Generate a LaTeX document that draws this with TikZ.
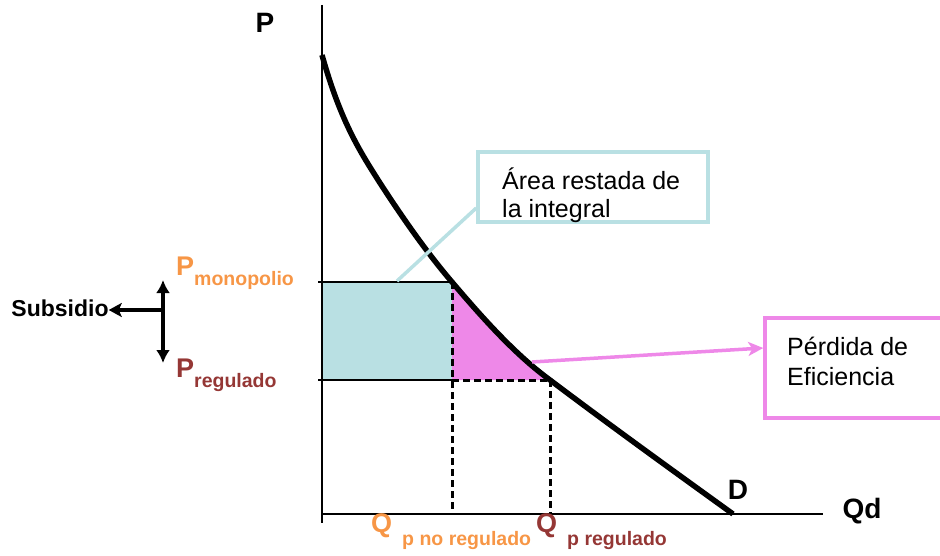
\documentclass[tikz,border=0pt]{standalone}
\usepackage{fontspec}
\setmainfont{Liberation Sans}
\usetikzlibrary{arrows.meta}
\definecolor{naranja}{HTML}{F79646}
\definecolor{granate}{HTML}{953735}
\definecolor{celeste}{HTML}{B9E0E3}
\definecolor{rosa}{HTML}{EE88E8}
\newcommand{\tam}[2]{\fontsize{#1}{#2}\selectfont}
\begin{document}
\begin{tikzpicture}[x=1pt,y=-1pt]
\useasboundingbox (0,0) rectangle (940,556);
\tikzstyle{every node}=[inner sep=0pt]
\tikzstyle{eje}=[line width=2.5pt]
\tikzstyle{guia}=[line width=3pt,dash pattern=on 7pt off 4pt]
\tikzstyle{demanda}=[line width=5.5pt]
\tikzstyle{flecha}=[line width=3.5pt,-{Stealth[length=13pt,width=14pt,inset=3pt]}]
\tikzstyle{punta}=[{Latex[length=13pt,width=14pt]}-{Latex[length=13pt,width=14pt]}]
\tikzstyle{caja}=[draw,line width=3.5pt,minimum width=230pt,minimum height=70pt]
\fill[celeste] (322,282) rectangle (452,380);
\fill[rosa] (452,380) -- (452,282) .. controls (485,321) and (517,356) .. (550,380) -- cycle;
\draw[eje] (322,5) -- (322,523);
\draw[eje] (322,514) -- (823,514);
\draw[eje] (318,282) -- (452,282);
\draw[eje] (318,380) -- (452,380);
\draw[guia] (452,282) -- (452,514);
\draw[guia] (452,380) -- (550,380);
\draw[guia] (550,380) -- (550,514);
\draw[demanda] (322,55) .. controls (341,123) and (361,153) .. (380,183)
  .. controls (404,220) and (428,254) .. (452,282)
  .. controls (485,321) and (517,356) .. (550,380)
  .. controls (611,426) and (672,470) .. (733,514);
\node[font=\bfseries\tam{28}{28}] (ejeP) at (265,23) {P};
\node[font=\bfseries\tam{28}{28}] (ejeQ) at (862,511) {Qd};
\node[font=\bfseries\tam{28}{28}] (D) at (738,490) {D};
\node[font=\bfseries\tam{23}{23}] (subsidio) at (60,308) {Subsidio};
\node[anchor=base west,text=naranja,font=\bfseries] (pmono) at (176,276) {\tam{27}{27}P\raisebox{-10pt}{\tam{19.5}{19.5}monopolio}};
\node[anchor=base west,text=granate,font=\bfseries] (preg) at (176,377) {\tam{27}{27}P\raisebox{-10pt}{\tam{19.5}{19.5}regulado}};
\node[anchor=base west,text=naranja,font=\bfseries] (qnoreg) at (371,532) {\tam{27}{27}Q\hspace{10pt}\raisebox{-13pt}{\tam{19.5}{19.5}p no regulado}};
\node[anchor=base west,text=granate,font=\bfseries] (qreg) at (536,532) {\tam{27}{27}Q\hspace{10pt}\raisebox{-13pt}{\tam{19.5}{19.5}p regulado}};
\node[caja,draw=celeste] (area) at (593,187) {};
\node[anchor=base west,align=left,font=\tam{25}{28}] (areatxt) at (502,218) {Área restada de\\la integral};
\node[caja,draw=rosa,minimum width=190pt,minimum height=100pt] (perdida) at (860,368) {};
\node[anchor=base west,align=left,font=\tam{25}{30}] (perdidatxt) at (787,385) {Pérdida de\\Eficiencia};
\coordinate (celda) at (397,281);
\coordinate (triang) at (532,362);
\coordinate (arriba) at (163,280);
\coordinate (abajo) at (163,363);
\coordinate (cruce) at (163,310);
\draw[celeste,line width=3.5pt] (celda) -- ([yshift=-21pt]area.west);
\draw[rosa,line width=3.5pt,-{Stealth[length=15pt,width=14pt,inset=4pt]}] (triang) -- ([yshift=20pt]perdida.west);
\draw[line width=3.5pt,punta] (arriba) -- (abajo);
\draw[flecha] (cruce) -- (cruce -| subsidio.east);
\end{tikzpicture}
\end{document}
